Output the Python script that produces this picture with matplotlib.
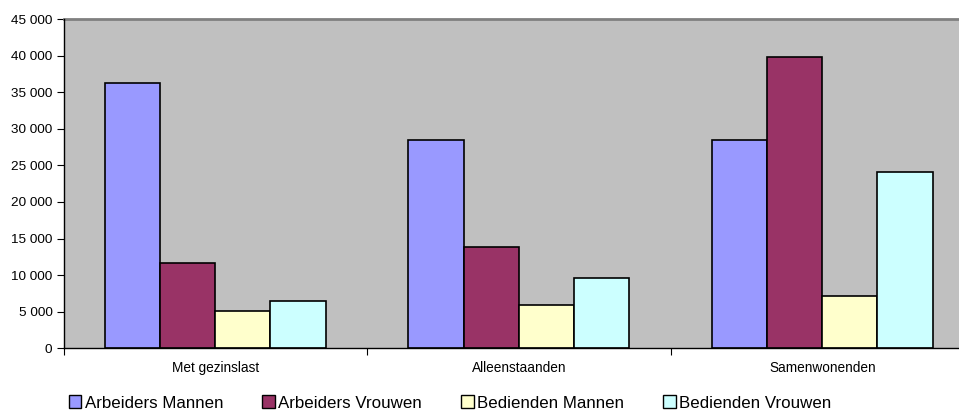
import matplotlib
matplotlib.use("Agg")
import matplotlib.pyplot as plt
from matplotlib.patches import Patch
from matplotlib.ticker import FuncFormatter, FixedLocator
import numpy as np

plt.rcParams['font.family'] = ['Liberation Sans', 'DejaVu Sans']

categories = ["Met gezinslast", "Alleenstaanden", "Samenwonenden"]
series_names = ["Arbeiders Mannen", "Arbeiders Vrouwen", "Bedienden Mannen", "Bedienden Vrouwen"]
arbeiders_mannen = [36200, 28400, 28400]
arbeiders_vrouwen = [11700, 13900, 39800]
bedienden_mannen = [5100, 5900, 7100]
bedienden_vrouwen = [6500, 9600, 24100]
colors = ["#9999FF", "#993366", "#FFFFCC", "#CCFFFF"]
y_ticks = [0, 5000, 10000, 15000, 20000, 25000, 30000, 35000, 40000, 45000]

W, H = 959, 412
fig = plt.figure(figsize=(W / 100, H / 100), dpi=100)
left, right = 63.5 / W, 974 / W
bottom, top = (H - 348.3) / H, (H - 19) / H
ax = fig.add_axes([left, bottom, right - left, top - bottom])
ax.set_facecolor("#C0C0C0")

series = [arbeiders_mannen, arbeiders_vrouwen, bedienden_mannen, bedienden_vrouwen]
x = np.arange(len(categories))
w = 1 / 5.5
for i, (vals, c, name) in enumerate(zip(series, colors, series_names)):
    ax.bar(x + (i - 1.5) * w, vals, width=w, color=c, edgecolor="black",
           linewidth=1.2, label=name, zorder=3)

ax.set_xlim(-0.5, len(categories) - 0.5)
ax.set_ylim(0, 45000)
ax.yaxis.set_major_locator(FixedLocator(y_ticks))
ax.yaxis.set_major_formatter(FuncFormatter(lambda v, p: f"{int(v):,}".replace(",", " ")))
ax.tick_params(axis="y", direction="out", length=5, width=0.8, labelsize=9.7, pad=3, colors="black")

ax.xaxis.set_major_locator(FixedLocator(np.arange(-0.5, len(categories), 1.0)))
ax.xaxis.set_major_formatter(FuncFormatter(lambda v, p: ""))
ax.xaxis.set_minor_locator(FixedLocator(x))
ax.set_xticklabels(categories, minor=True)
ax.tick_params(axis="x", which="major", direction="out", length=5, width=0.8)
ax.tick_params(axis="x", which="minor", length=0, labelsize=9.8, pad=9)

for s in ["left", "bottom"]:
    ax.spines[s].set_color("black")
    ax.spines[s].set_linewidth(1.0)
    ax.spines[s].set_zorder(5)
ax.spines["top"].set_color("#808080")
ax.spines["top"].set_linewidth(2.0)
ax.spines["right"].set_color("#808080")
ax.spines["right"].set_linewidth(2.0)

handles = [Patch(facecolor=c, edgecolor="black", linewidth=1.0) for c in colors]
fig.legend(handles, series_names, loc="center", bbox_to_anchor=(450 / W, (H - 403) / H),
           ncol=4, frameon=False, fontsize=12.2, handlelength=0.75, handleheight=0.75,
           handletextpad=0.2, columnspacing=2.3, borderaxespad=0, borderpad=0)

fig.savefig("out.png", dpi=100)
